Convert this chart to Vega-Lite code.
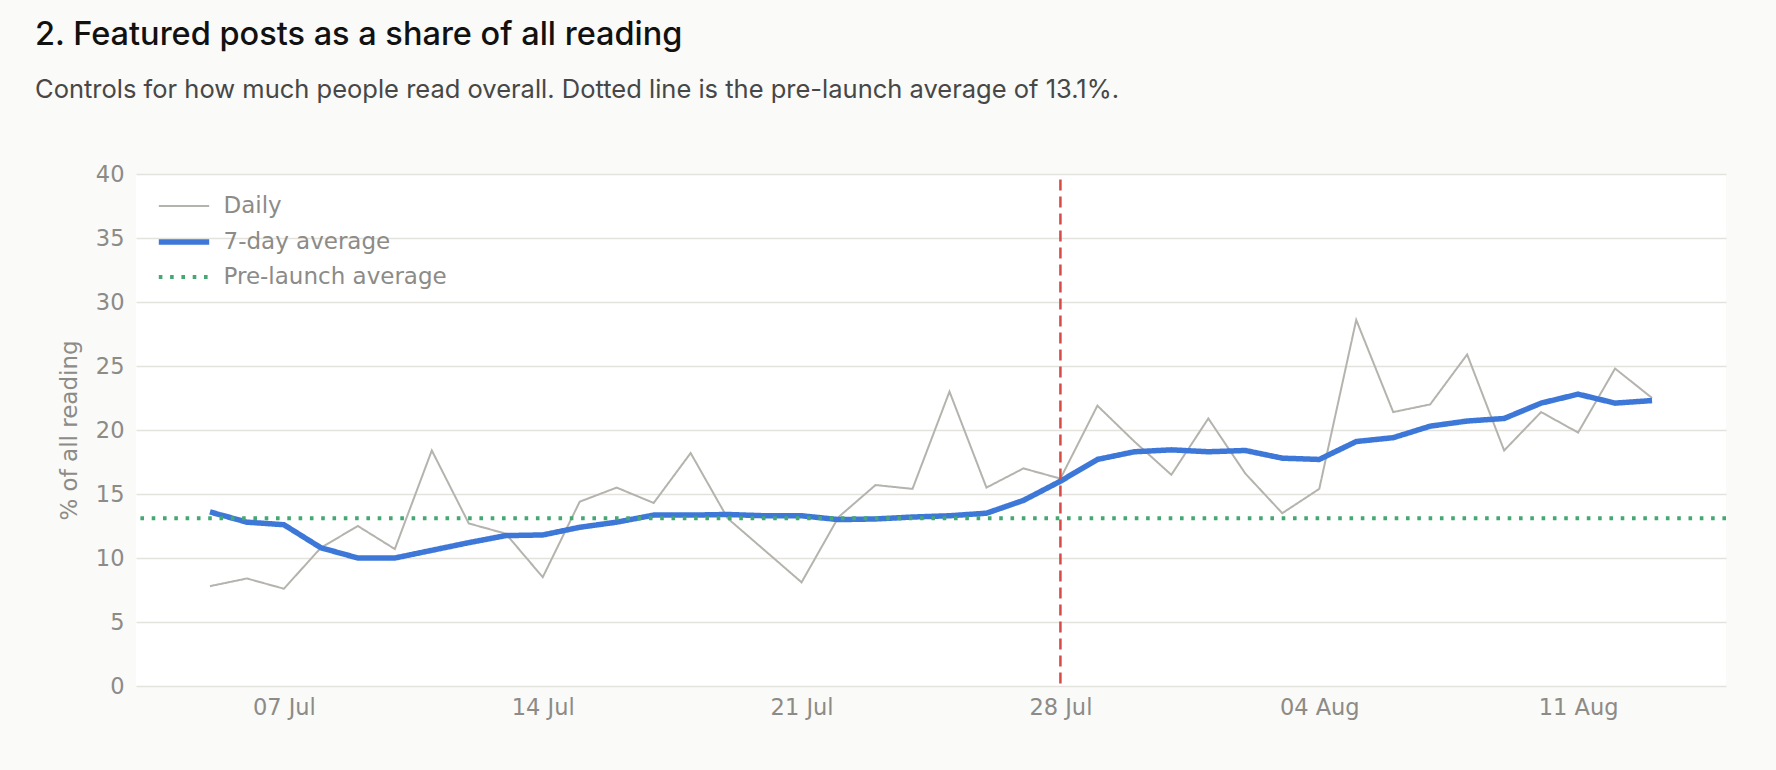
{
  "$schema": "https://vega.github.io/schema/vega-lite/v6.json",
  "description": "Featured posts as a share of all reading, daily and 7-day average",
  "width": 1590,
  "height": 512,
  "autosize": {"type": "none"},
  "padding": {"left": 136, "top": 174, "right": 50, "bottom": 84},
  "background": "#fafaf8",
  "title": {
    "text": "2. Featured posts as a share of all reading",
    "subtitle": "Controls for how much people read overall. Dotted line is the pre-launch average of 13.1%.",
    "anchor": "start",
    "frame": "group",
    "dx": -101,
    "offset": 60,
    "font": "Inter",
    "fontSize": 32.5,
    "fontWeight": 500,
    "color": "#111111",
    "subtitleFont": "Inter",
    "subtitleFontSize": 25.5,
    "subtitleColor": "#474747",
    "subtitlePadding": 26
  },
  "datasets": {
    "share": [
      {"date": "2025-07-05", "series": "Daily", "value": 7.8},
      {"date": "2025-07-06", "series": "Daily", "value": 8.4},
      {"date": "2025-07-07", "series": "Daily", "value": 7.6},
      {"date": "2025-07-08", "series": "Daily", "value": 10.8},
      {"date": "2025-07-09", "series": "Daily", "value": 12.5},
      {"date": "2025-07-10", "series": "Daily", "value": 10.7},
      {"date": "2025-07-11", "series": "Daily", "value": 18.4},
      {"date": "2025-07-12", "series": "Daily", "value": 12.7},
      {"date": "2025-07-13", "series": "Daily", "value": 11.9},
      {"date": "2025-07-14", "series": "Daily", "value": 8.5},
      {"date": "2025-07-15", "series": "Daily", "value": 14.4},
      {"date": "2025-07-16", "series": "Daily", "value": 15.5},
      {"date": "2025-07-17", "series": "Daily", "value": 14.3},
      {"date": "2025-07-18", "series": "Daily", "value": 18.2},
      {"date": "2025-07-19", "series": "Daily", "value": 13.1},
      {"date": "2025-07-20", "series": "Daily", "value": 10.6},
      {"date": "2025-07-21", "series": "Daily", "value": 8.1},
      {"date": "2025-07-22", "series": "Daily", "value": 13.2},
      {"date": "2025-07-23", "series": "Daily", "value": 15.7},
      {"date": "2025-07-24", "series": "Daily", "value": 15.4},
      {"date": "2025-07-25", "series": "Daily", "value": 23.0},
      {"date": "2025-07-26", "series": "Daily", "value": 15.5},
      {"date": "2025-07-27", "series": "Daily", "value": 17.0},
      {"date": "2025-07-28", "series": "Daily", "value": 16.2},
      {"date": "2025-07-29", "series": "Daily", "value": 21.9},
      {"date": "2025-07-30", "series": "Daily", "value": 19.1},
      {"date": "2025-07-31", "series": "Daily", "value": 16.5},
      {"date": "2025-08-01", "series": "Daily", "value": 20.9},
      {"date": "2025-08-02", "series": "Daily", "value": 16.6},
      {"date": "2025-08-03", "series": "Daily", "value": 13.5},
      {"date": "2025-08-04", "series": "Daily", "value": 15.4},
      {"date": "2025-08-05", "series": "Daily", "value": 28.6},
      {"date": "2025-08-06", "series": "Daily", "value": 21.4},
      {"date": "2025-08-07", "series": "Daily", "value": 22.0},
      {"date": "2025-08-08", "series": "Daily", "value": 25.9},
      {"date": "2025-08-09", "series": "Daily", "value": 18.4},
      {"date": "2025-08-10", "series": "Daily", "value": 21.4},
      {"date": "2025-08-11", "series": "Daily", "value": 19.8},
      {"date": "2025-08-12", "series": "Daily", "value": 24.8},
      {"date": "2025-08-13", "series": "Daily", "value": 22.5},
      {"date": "2025-07-05", "series": "7-day average", "value": 13.6},
      {"date": "2025-07-06", "series": "7-day average", "value": 12.8},
      {"date": "2025-07-07", "series": "7-day average", "value": 12.6},
      {"date": "2025-07-08", "series": "7-day average", "value": 10.8},
      {"date": "2025-07-09", "series": "7-day average", "value": 10.0},
      {"date": "2025-07-10", "series": "7-day average", "value": 10.0},
      {"date": "2025-07-11", "series": "7-day average", "value": 10.6},
      {"date": "2025-07-12", "series": "7-day average", "value": 11.2},
      {"date": "2025-07-13", "series": "7-day average", "value": 11.75},
      {"date": "2025-07-14", "series": "7-day average", "value": 11.8},
      {"date": "2025-07-15", "series": "7-day average", "value": 12.4},
      {"date": "2025-07-16", "series": "7-day average", "value": 12.8},
      {"date": "2025-07-17", "series": "7-day average", "value": 13.35},
      {"date": "2025-07-18", "series": "7-day average", "value": 13.35},
      {"date": "2025-07-19", "series": "7-day average", "value": 13.4},
      {"date": "2025-07-20", "series": "7-day average", "value": 13.3},
      {"date": "2025-07-21", "series": "7-day average", "value": 13.3},
      {"date": "2025-07-22", "series": "7-day average", "value": 13.0},
      {"date": "2025-07-23", "series": "7-day average", "value": 13.05},
      {"date": "2025-07-24", "series": "7-day average", "value": 13.2},
      {"date": "2025-07-25", "series": "7-day average", "value": 13.3},
      {"date": "2025-07-26", "series": "7-day average", "value": 13.5},
      {"date": "2025-07-27", "series": "7-day average", "value": 14.5},
      {"date": "2025-07-28", "series": "7-day average", "value": 16.0},
      {"date": "2025-07-29", "series": "7-day average", "value": 17.7},
      {"date": "2025-07-30", "series": "7-day average", "value": 18.3},
      {"date": "2025-07-31", "series": "7-day average", "value": 18.45},
      {"date": "2025-08-01", "series": "7-day average", "value": 18.3},
      {"date": "2025-08-02", "series": "7-day average", "value": 18.4},
      {"date": "2025-08-03", "series": "7-day average", "value": 17.8},
      {"date": "2025-08-04", "series": "7-day average", "value": 17.7},
      {"date": "2025-08-05", "series": "7-day average", "value": 19.1},
      {"date": "2025-08-06", "series": "7-day average", "value": 19.4},
      {"date": "2025-08-07", "series": "7-day average", "value": 20.3},
      {"date": "2025-08-08", "series": "7-day average", "value": 20.7},
      {"date": "2025-08-09", "series": "7-day average", "value": 20.9},
      {"date": "2025-08-10", "series": "7-day average", "value": 22.1},
      {"date": "2025-08-11", "series": "7-day average", "value": 22.8},
      {"date": "2025-08-12", "series": "7-day average", "value": 22.1},
      {"date": "2025-08-13", "series": "7-day average", "value": 22.3}
    ],
    "prelaunch": [
      {"series": "Pre-launch average", "value": 13.1}
    ],
    "launch": [
      {"date": "2025-07-28"}
    ]
  },
  "layer": [
    {
      "data": {"name": "share"},
      "transform": [{"filter": "datum.series === 'Daily'"}],
      "mark": {"type": "line"},
      "encoding": {
        "x": {
          "field": "date",
          "type": "temporal",
          "title": null,
          "scale": {
            "type": "utc",
            "domain": [
              {"year": 2025, "month": 7, "date": 3, "utc": true},
              {"year": 2025, "month": 8, "date": 15, "utc": true}
            ]
          },
          "axis": {
            "values": [
              {"year": 2025, "month": 7, "date": 7, "utc": true},
              {"year": 2025, "month": 7, "date": 14, "utc": true},
              {"year": 2025, "month": 7, "date": 21, "utc": true},
              {"year": 2025, "month": 7, "date": 28, "utc": true},
              {"year": 2025, "month": 8, "date": 4, "utc": true},
              {"year": 2025, "month": 8, "date": 11, "utc": true}
            ],
            "format": "%d %b",
            "grid": false,
            "domain": false,
            "ticks": false,
            "labelPadding": 10.5
          }
        },
        "y": {
          "field": "value",
          "type": "quantitative",
          "title": "% of all reading",
          "scale": {"domain": [0, 40], "nice": false},
          "axis": {
            "values": [0, 5, 10, 15, 20, 25, 30, 35, 40],
            "domain": false,
            "ticks": false,
            "labelPadding": 12,
            "titlePadding": 14
          }
        },
        "color": {
          "field": "series", "type": "nominal", "title": null,
          "scale": {"domain": ["Daily", "7-day average", "Pre-launch average"], "range": ["#b5b3ad", "#3d78d8", "#44a872"]}
        },
        "strokeWidth": {
          "field": "series", "type": "nominal", "title": null,
          "scale": {"type": "ordinal", "domain": ["Daily", "7-day average", "Pre-launch average"], "range": [2, 5.5, 4]}
        },
        "strokeDash": {
          "field": "series", "type": "nominal", "title": null,
          "scale": {"domain": ["Daily", "7-day average", "Pre-launch average"], "range": [[1, 0], [1, 0], [3.6, 7.7]]}
        }
      }
    },
    {
      "data": {"name": "share"},
      "transform": [{"filter": "datum.series === '7-day average'"}],
      "mark": {"type": "line"},
      "encoding": {
        "x": {"field": "date", "type": "temporal", "title": null},
        "y": {"field": "value", "type": "quantitative", "title": "% of all reading"},
        "color": {
          "field": "series", "type": "nominal", "title": null,
          "scale": {"domain": ["Daily", "7-day average", "Pre-launch average"], "range": ["#b5b3ad", "#3d78d8", "#44a872"]}
        },
        "strokeWidth": {
          "field": "series", "type": "nominal", "title": null,
          "scale": {"type": "ordinal", "domain": ["Daily", "7-day average", "Pre-launch average"], "range": [2, 5.5, 4]}
        },
        "strokeDash": {
          "field": "series", "type": "nominal", "title": null,
          "scale": {"domain": ["Daily", "7-day average", "Pre-launch average"], "range": [[1, 0], [1, 0], [3.6, 7.7]]}
        }
      }
    },
    {
      "data": {"name": "prelaunch"},
      "mark": {"type": "rule"},
      "encoding": {
        "y": {"field": "value", "type": "quantitative", "title": "% of all reading"},
        "color": {
          "field": "series", "type": "nominal", "title": null,
          "scale": {"domain": ["Daily", "7-day average", "Pre-launch average"], "range": ["#b5b3ad", "#3d78d8", "#44a872"]}
        },
        "strokeWidth": {
          "field": "series", "type": "nominal", "title": null,
          "scale": {"type": "ordinal", "domain": ["Daily", "7-day average", "Pre-launch average"], "range": [2, 5.5, 4]}
        },
        "strokeDash": {
          "field": "series", "type": "nominal", "title": null,
          "scale": {"domain": ["Daily", "7-day average", "Pre-launch average"], "range": [[1, 0], [1, 0], [3.6, 7.7]]}
        }
      }
    },
    {
      "data": {"name": "launch"},
      "mark": {"type": "rule", "color": "#d64b45", "strokeWidth": 2.5, "strokeDash": [11, 6], "strokeDashOffset": 11.4},
      "encoding": {
        "x": {"field": "date", "type": "temporal", "title": null}
      }
    }
  ],
  "config": {
    "view": {"stroke": null, "fill": "#ffffff"},
    "axis": {
      "labelFont": "DejaVu Sans",
      "labelFontSize": 22.5,
      "labelColor": "#8c8b87",
      "titleFont": "DejaVu Sans",
      "titleFontSize": 23,
      "titleFontWeight": "normal",
      "titleColor": "#8c8b87",
      "gridColor": "#e4e2dd",
      "gridWidth": 1.5
    },
    "legend": {
      "orient": "none",
      "legendX": 24,
      "legendY": 10,
      "padding": 0,
      "symbolType": "M-1.2,0H1.2",
      "symbolSize": 1764,
      "labelFont": "DejaVu Sans",
      "labelFontSize": 23,
      "labelColor": "#8c8b87",
      "labelOffset": 15.5,
      "labelLimit": 500,
      "rowPadding": 0
    }
  }
}
